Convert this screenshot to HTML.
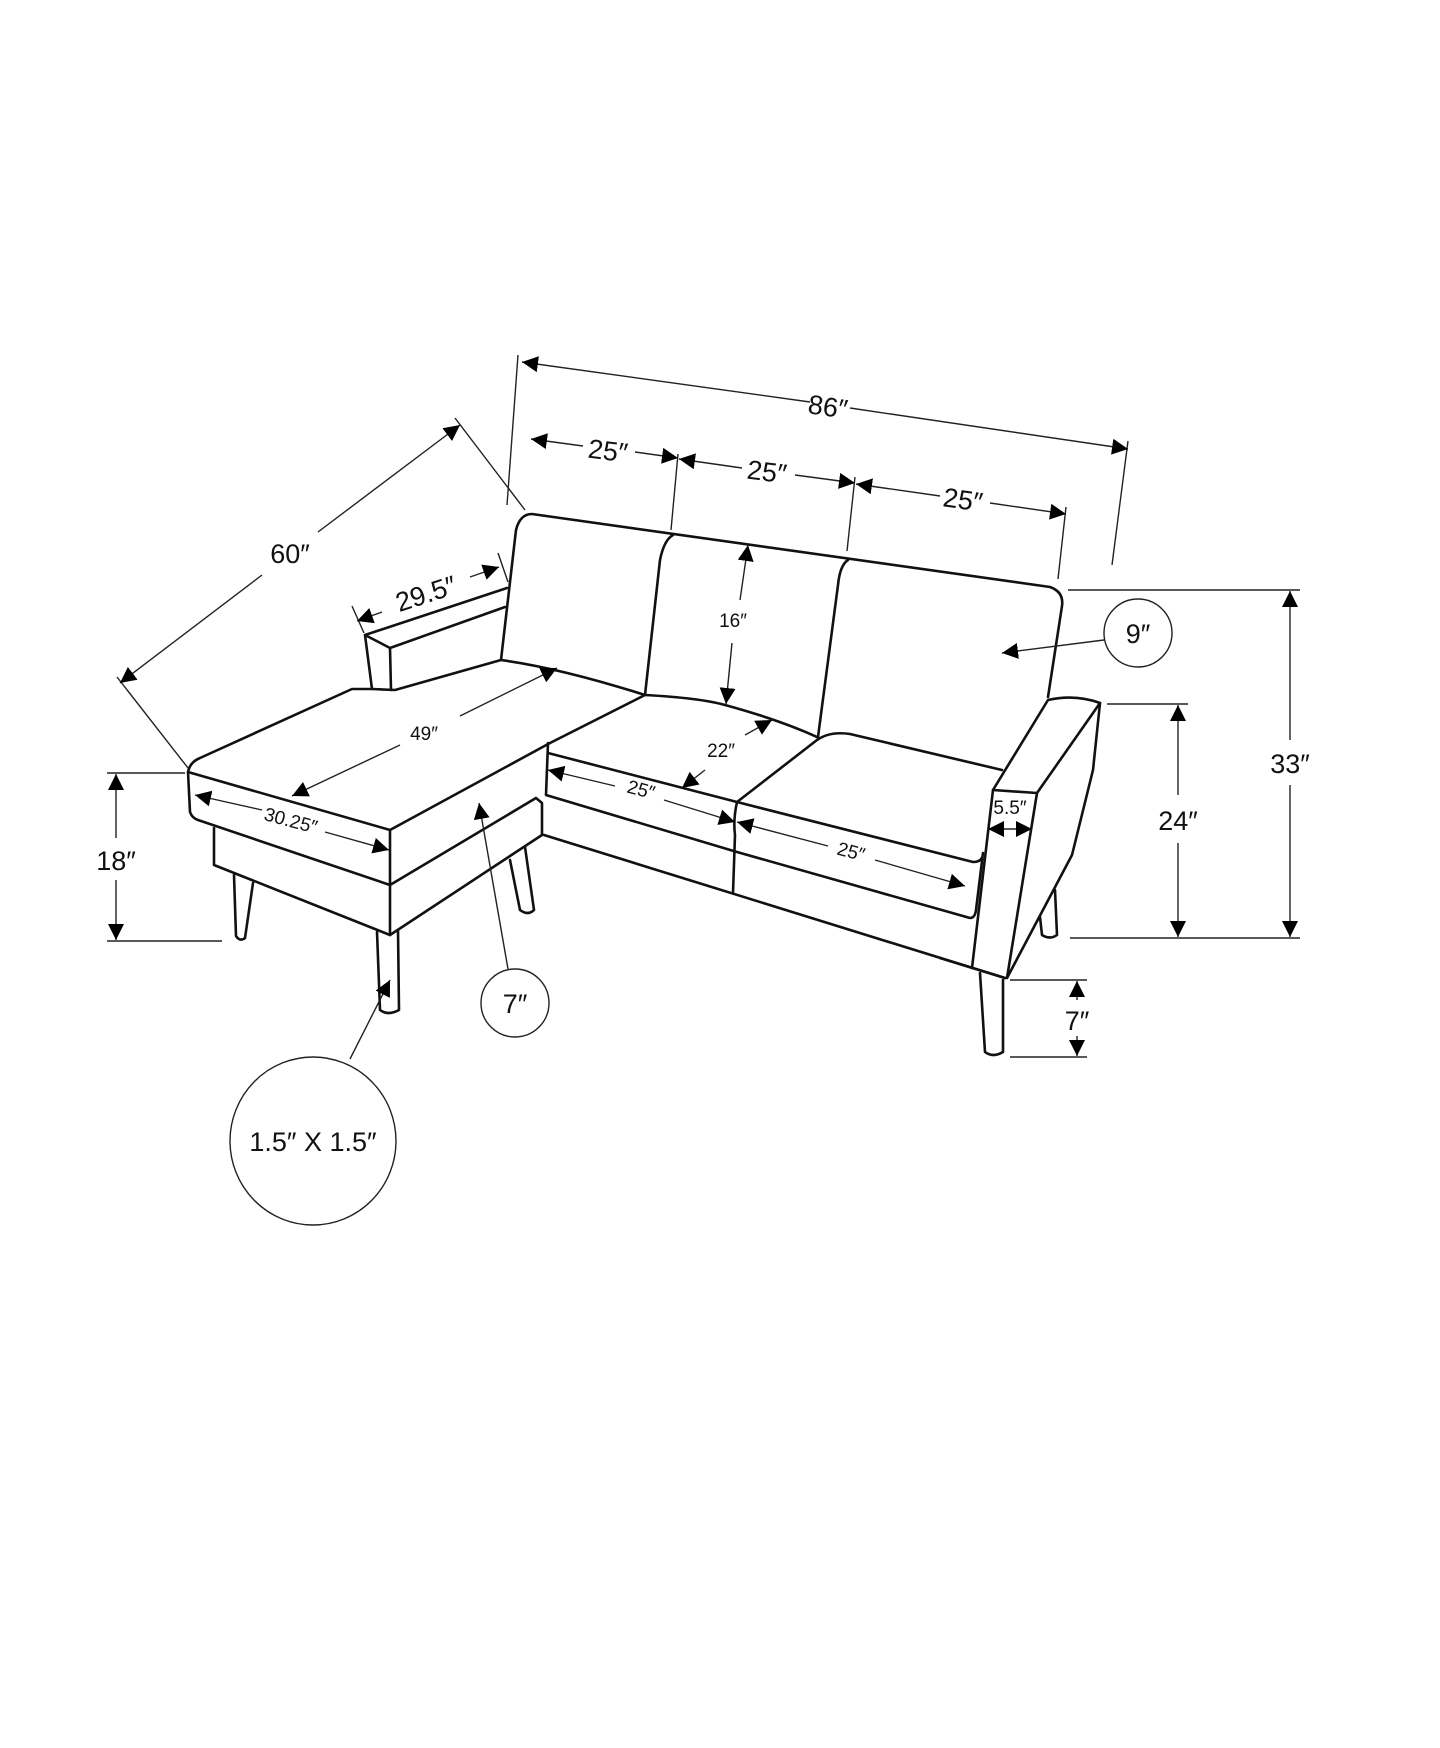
<!DOCTYPE html>
<html><head><meta charset="utf-8"><style>
html,body{margin:0;padding:0;background:#fff;}
svg{display:block;}
text{font-family:"Liberation Sans Narrow","Liberation Sans",sans-serif;fill:#111;}
</style></head><body>
<svg width="1440" height="1748" viewBox="0 0 1440 1748" xmlns="http://www.w3.org/2000/svg">
<defs>
<marker id="a" viewBox="0 0 10 10" refX="10" refY="5" markerWidth="16" markerHeight="16" markerUnits="userSpaceOnUse" orient="auto-start-reverse">
<path d="M0,0 L10,5 L0,10 z" fill="#000"/></marker>
</defs>
<rect width="1440" height="1748" fill="#fff"/>

<g fill="none" stroke="#111" stroke-width="2.6" stroke-linejoin="round" stroke-linecap="round">
<path d="M501,660 Q510,580 516,530 Q520,514 532,514 L1050,587 Q1064,592 1062,606 L1048,697"/>
<path d="M673,535 Q664,540 660,560 L645,695"/>
<path d="M848,560 Q840,565 838,585 L818,737"/>
<path d="M365,635 L372,689 M390,648 L391,690 M365,635 L390,648 L505,607 M365,635 L507,588"/>
<path d="M188,772 Q190,762 200,758 L352,689 L372,689 L395,690 L501,660 Q560,668 645,695 M645,695 L550,743 L390,830 L188,772"/>
<path d="M188,772 L190,812 Q192,818 198,820 L390,885 L390,935 M390,830 L390,885 M390,885 L536,798 L542,803 L542,835 L390,935"/>
<path d="M214,828 L214,865 L390,935"/>
<path d="M234,875 L236,936 Q240,942 245,938 L253,883"/>
<path d="M377,932 L380,1010 Q388,1016 399,1010 L398,930"/>
<path d="M510,860 L520,910 Q528,916 534,910 L525,847"/>
<path d="M645,695 Q700,698 725,705 Q780,720 817,737"/>
<path d="M548,743 L546,795 M548,753 L737,802 L973,862 Q983,862 983,853 M546,795 L737,852 L970,918 Q975,918 976,910 L983,853"/>
<path d="M737,802 Q733,820 735,835 L733,893"/>
<path d="M544,835 L1005,978"/>
<path d="M737,802 L817,740 Q830,731 850,734 L1002,770"/>
<path d="M993,790 L1037,793 L1100,703 M993,790 L1048,700 Q1075,694 1100,703"/>
<path d="M993,790 L972,968 M1037,793 L1007,978 M1100,703 L1093,770 L1072,855 L1007,978"/>
<path d="M940,958 L1005,978"/>
<path d="M980,973 L985,1052 Q993,1058 1003,1052 L1003,980"/>
<path d="M1040,917 L1042,935 Q1050,940 1057,935 L1055,890"/>
</g>

<g fill="none" stroke="#222" stroke-width="1.4">
<path d="M518,355 L507,505 M1128,441 L1112,565"/>
<path d="M678,454 L671,530 M855,477 L847,551 M1066,507 L1058,579"/>
<path d="M455,418 L525,510 M117,677 L188,768"/>
<path d="M352,606 L364,633 M498,553 L508,582"/>
<path d="M107,773 L185,773 M107,941 L222,941"/>
<path d="M1068,590 L1300,590 M1070,938 L1300,938 M1107,704 L1188,704"/>
<path d="M1010,980 L1087,980 M1010,1057 L1087,1057"/>
<path d="M850,408 L1128,449" marker-end="url(#a)"/>
<path d="M810,402 L522,362" marker-end="url(#a)"/>
<path d="M583,446 L531,439" marker-end="url(#a)"/><path d="M635,452 L678,458" marker-end="url(#a)"/>
<path d="M742,468 L679,459" marker-end="url(#a)"/><path d="M795,475 L855,483" marker-end="url(#a)"/>
<path d="M940,496 L856,484" marker-end="url(#a)"/><path d="M990,503 L1066,514" marker-end="url(#a)"/>
<path d="M262,575 L120,683" marker-end="url(#a)"/><path d="M318,532 L460,425" marker-end="url(#a)"/>
<path d="M382,612 L357,621" marker-end="url(#a)"/><path d="M470,577 L499,567" marker-end="url(#a)"/>
<path d="M400,745 L292,796" marker-end="url(#a)"/><path d="M460,716 L557,668" marker-end="url(#a)"/>
<path d="M262,810 L195,795" marker-end="url(#a)"/><path d="M325,832 L389,850" marker-end="url(#a)"/>
<path d="M116,838 L116,774" marker-end="url(#a)"/><path d="M116,880 L116,940" marker-end="url(#a)"/>
<path d="M740,600 L748,545" marker-end="url(#a)"/><path d="M732,643 L726,704" marker-end="url(#a)"/>
<path d="M705,770 L682,788" marker-end="url(#a)"/><path d="M745,735 L772,720" marker-end="url(#a)"/>
<path d="M615,786 L548,770" marker-end="url(#a)"/><path d="M664,800 L735,822" marker-end="url(#a)"/>
<path d="M828,846 L737,822" marker-end="url(#a)"/><path d="M875,860 L965,886" marker-end="url(#a)"/>
<path d="M1010,829 L988,829" marker-end="url(#a)"/><path d="M1010,829 L1032,829" marker-end="url(#a)"/>
<path d="M1178,795 L1178,705" marker-end="url(#a)"/><path d="M1178,843 L1178,937" marker-end="url(#a)"/>
<path d="M1290,740 L1290,591" marker-end="url(#a)"/><path d="M1290,785 L1290,937" marker-end="url(#a)"/>
<path d="M1077,1000 L1077,981" marker-end="url(#a)"/><path d="M1077,1036 L1077,1056" marker-end="url(#a)"/>
<path d="M1104,640 L1002,653" marker-end="url(#a)"/>
<path d="M508,969 L479,803" marker-end="url(#a)"/>
<path d="M350,1059 L390,980" marker-end="url(#a)"/>
<ellipse cx="1138" cy="633" rx="34" ry="34"/>
<ellipse cx="515" cy="1003" rx="34" ry="34"/>
<ellipse cx="313" cy="1141" rx="83" ry="84"/>
</g>

<g font-size="27" text-anchor="middle">
<text x="828" y="416" transform="rotate(8 828 406)">86″</text>
<text x="608" y="460" transform="rotate(7 608 450)">25″</text>
<text x="767" y="481" transform="rotate(7 767 471)">25″</text>
<text x="963" y="509" transform="rotate(8 963 499)">25″</text>
<text x="290" y="563">60″</text>
<text x="426" y="603" transform="rotate(-18 426 594)">29.5″</text>
<text x="116" y="870">18″</text>
<text x="1178" y="830">24″</text>
<text x="1290" y="773">33″</text>
<text x="1077" y="1030">7″</text>
<text x="1138" y="643">9″</text>
<text x="515" y="1013">7″</text>
<text x="313" y="1151">1.5″ X 1.5″</text>
</g>
<g font-size="19" text-anchor="middle">
<text x="424" y="740">49″</text>
<text x="291" y="827" transform="rotate(15 291 820)">30.25″</text>
<text x="733" y="627">16″</text>
<text x="721" y="757">22″</text>
<text x="641" y="796" transform="rotate(15 641 790)">25″</text>
<text x="851" y="858" transform="rotate(15 851 852)">25″</text>
<text x="1010" y="814">5.5″</text>
</g>
</svg>
</body></html>
